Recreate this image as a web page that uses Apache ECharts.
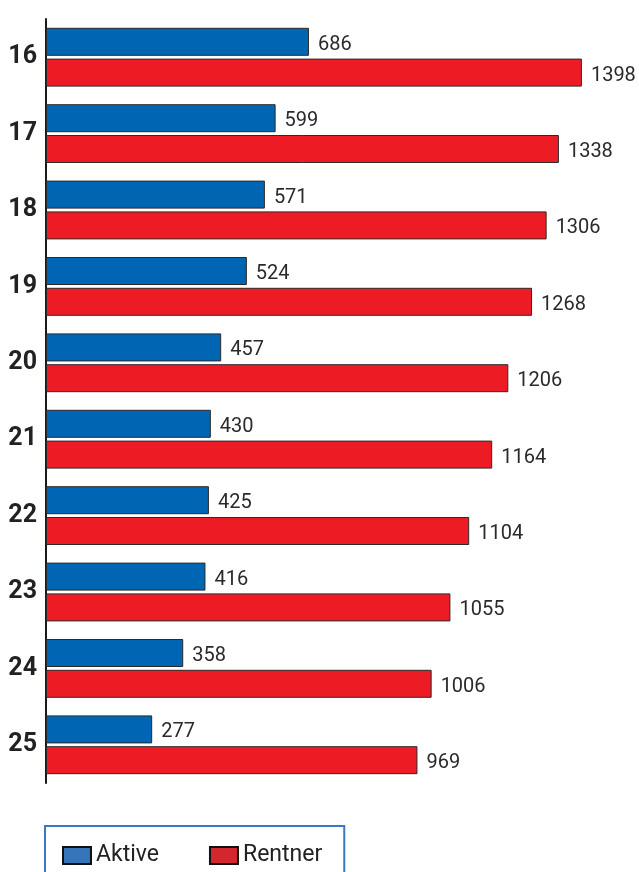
<!DOCTYPE html>
<html>
<head>
<meta charset="utf-8">
<script src="https://cdn.jsdelivr.net/npm/echarts@6/dist/echarts.min.js"></script>
<style>html,body{margin:0;padding:0;background:#fff;}#c{width:639px;height:872px;}</style>
</head>
<body>
<div id="c"></div>
<script>
const categories = ['16','17','18','19','20','21','22','23','24','25'];
const aktive = [686, 599, 571, 524, 457, 430, 425, 416, 358, 277];
const rentner = [1398, 1338, 1306, 1268, 1206, 1164, 1104, 1055, 1006, 969];
const seriesNames = ['Aktive', 'Rentner'];

const chart = echarts.init(document.getElementById('c'), null, {renderer: 'canvas'});
const labelStyle = {show: true, position: 'right', distance: 9, offset: [0, 3], color: '#2a2a2a', fontFamily: 'Roboto', fontSize: 20};
chart.setOption({
  animation: false,
  backgroundColor: '#fff',
  grid: {left: 46, top: 19, width: 575, height: 764, containLabel: false},
  xAxis: {type: 'value', min: 0, max: 1500, show: false, splitLine: {show: false}},
  yAxis: {
    type: 'category', data: categories, inverse: true,
    axisLine: {show: true, lineStyle: {color: '#1a1a1a', width: 2}},
    axisTick: {show: false},
    axisLabel: {color: '#222', fontFamily: 'Roboto', fontWeight: 'bold', fontSize: 25, margin: 9, padding: [5, 0, 0, 0]}
  },
  legend: {
    left: 45, top: 826,
    padding: [18, 22, 40, 17],
    borderColor: '#3a78c4', borderWidth: 2,
    itemWidth: 28, itemHeight: 17, itemGap: 50,
    textStyle: {color: '#222', fontFamily: 'Roboto', fontSize: 23},
    data: [
      {name: seriesNames[0], icon: 'rect', itemStyle: {color: '#3574b8', borderColor: '#111', borderWidth: 2}},
      {name: seriesNames[1], icon: 'rect', itemStyle: {color: '#d4262d', borderColor: '#111', borderWidth: 2}}
    ]
  },
  series: [
    {name: seriesNames[0], type: 'bar', data: aktive, barWidth: 28, barGap: '10%',
     itemStyle: {color: '#0066b3', borderColor: '#2a2a2a', borderWidth: 1}, label: labelStyle},
    {name: seriesNames[1], type: 'bar', data: rentner, barWidth: 28, barGap: '10%',
     itemStyle: {color: '#ed1c24', borderColor: '#2a2a2a', borderWidth: 1}, label: labelStyle}
  ]
});
</script>
</body>
</html>
